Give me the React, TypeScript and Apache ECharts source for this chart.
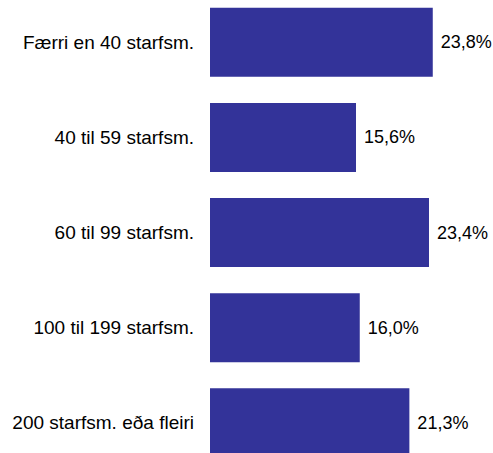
import React, { useEffect, useRef } from "react";
import * as echarts from "echarts";

const categories = [
  "Færri en 40 starfsm.",
  "40 til 59 starfsm.",
  "60 til 99 starfsm.",
  "100 til 199 starfsm.",
  "200 starfsm. eða fleiri",
];
const values = [23.8, 15.6, 23.4, 16.0, 21.3];

export default function App() {
  const ref = useRef<HTMLDivElement>(null);
  useEffect(() => {
    document.body.style.margin = "0";
    const chart = echarts.init(ref.current!, null, { renderer: "svg" });
    chart.setOption({
      animation: false,
      backgroundColor: "#ffffff",
      grid: {
        left: 210,
        top: -5.2,
        width: 280.8,
        height: 475.5,
        containLabel: false,
        outerBoundsMode: "none",
      },
      xAxis: {
        type: "value",
        min: 0,
        max: 30,
        show: false,
      },
      yAxis: {
        type: "category",
        data: categories,
        inverse: true,
        axisLine: { show: false },
        axisTick: { show: false },
        splitLine: { show: false },
        axisLabel: {
          margin: 16,
          color: "#000000",
          fontFamily: "Liberation Sans, Arial, sans-serif",
          fontSize: 19,
        },
      },
      series: [
        {
          type: "bar",
          data: values,
          barWidth: 69,
          itemStyle: { color: "#333399" },
          label: {
            show: true,
            position: "right",
            distance: 8,
            color: "#000000",
            fontFamily: "Liberation Sans, Arial, sans-serif",
            fontSize: 18,
            formatter: (p: any) => p.value.toFixed(1).replace(".", ",") + "%",
          },
        },
      ],
    });
    return () => chart.dispose();
  }, []);
  return <div ref={ref} style={{ width: 493, height: 453, position: "absolute", left: 0, top: 0 }} />;
}
